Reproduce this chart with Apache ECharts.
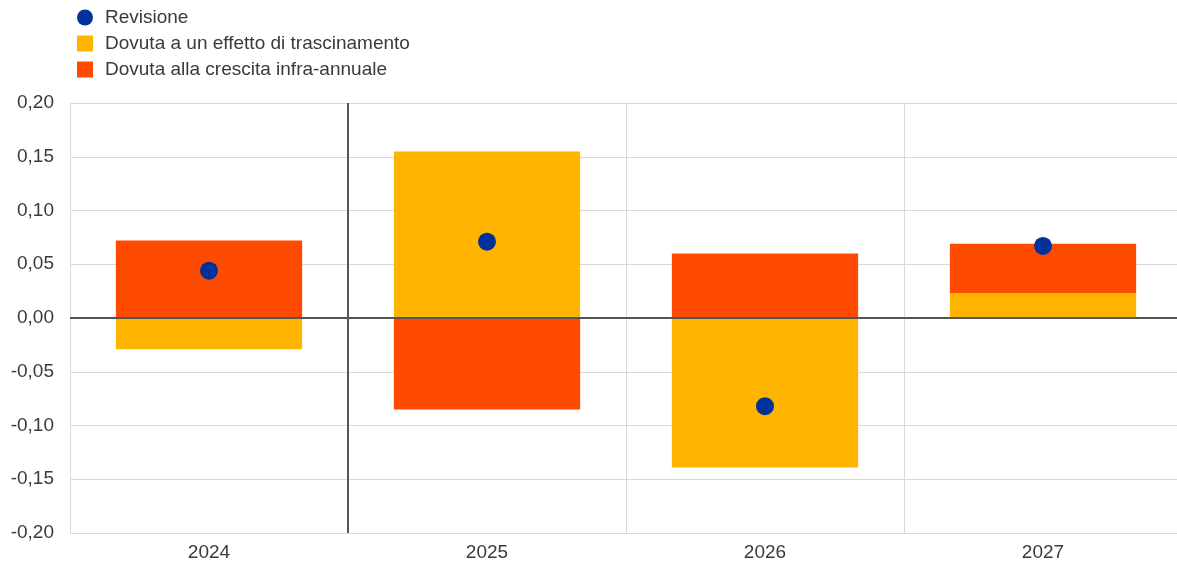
<!DOCTYPE html>
<html>
<head>
<meta charset="utf-8">
<script src="https://cdn.jsdelivr.net/npm/echarts@6/dist/echarts.min.js"></script>
<style>
html,body{margin:0;padding:0;background:#fff;overflow:hidden;}
#chart{width:1183px;height:569px;}
</style>
</head>
<body>
<div id="chart"></div>
<script>
const categories = ['2024', '2025', '2026', '2027'];
const revisione = [0.044, 0.071, -0.082, 0.067];
const trascinamento = [-0.029, 0.155, -0.139, 0.023];
const infraAnnuale = [0.072, -0.085, 0.06, 0.046];
const seriesNames = ['Revisione', 'Dovuta a un effetto di trascinamento', 'Dovuta alla crescita infra-annuale'];
const dividerX = [0.5, 0.5];
const dividerY = [-0.2, 0.2];

const font = 'Liberation Sans, Arial, sans-serif';
const chart = echarts.init(document.getElementById('chart'));
chart.setOption({
  animation: false,
  textStyle: { fontFamily: font },
  legend: {
    orient: 'vertical',
    left: 72,
    top: 3,
    itemWidth: 16,
    itemHeight: 16,
    itemGap: 7,
    textStyle: { fontSize: 19, color: '#3a3a3a', fontFamily: font, padding: [0, 0, 0, 7] },
    data: [
      { name: seriesNames[0], icon: 'circle' },
      { name: seriesNames[1], icon: 'rect' },
      { name: seriesNames[2], icon: 'rect' }
    ]
  },
  grid: { left: 70, top: 103, right: 1, height: 430 },
  xAxis: [
    {
      type: 'category',
      data: categories,
      axisLine: { show: false },
      axisTick: { show: false },
      axisLabel: { fontSize: 19, color: '#3a3a3a', margin: 10, fontFamily: font },
      splitLine: { show: true, lineStyle: { color: '#d9d9d9', width: 1 } }
    },
    {
      type: 'value',
      min: -0.5,
      max: 3.5,
      show: false
    }
  ],
  yAxis: {
    type: 'value',
    min: -0.2,
    max: 0.2,
    interval: 0.05,
    axisLine: { show: false },
    axisTick: { show: false },
    axisLabel: {
      fontSize: 19,
      color: '#3a3a3a',
      margin: 16,
      fontFamily: font,
      formatter: v => v.toFixed(2).replace('.', ',').replace('-0,00', '0,00')
    },
    splitLine: { lineStyle: { color: '#d9d9d9', width: 1 } }
  },
  series: [
    {
      name: seriesNames[1],
      type: 'bar',
      stack: 'tot',
      barWidth: '67%',
      itemStyle: { color: '#FFB400' },
      data: trascinamento,
      z: 2,
      markLine: {
        silent: true,
        symbol: 'none',
        label: { show: false },
        lineStyle: { color: '#555', width: 2, type: 'solid' },
        data: [{ yAxis: 0 }],
        z: 5
      }
    },
    {
      name: seriesNames[2],
      type: 'bar',
      stack: 'tot',
      barWidth: '67%',
      itemStyle: { color: '#FF4B00' },
      data: infraAnnuale,
      z: 2
    },
    {
      name: 'divider',
      type: 'line',
      xAxisIndex: 1,
      symbol: 'none',
      silent: true,
      lineStyle: { color: '#555', width: 2 },
      data: dividerX.map((x, i) => [x, dividerY[i]]),
      z: 4
    },
    {
      name: seriesNames[0],
      type: 'scatter',
      symbol: 'circle',
      symbolSize: 18,
      itemStyle: { color: '#003299', opacity: 1 },
      data: revisione,
      z: 10
    }
  ]
});
</script>
</body>
</html>
